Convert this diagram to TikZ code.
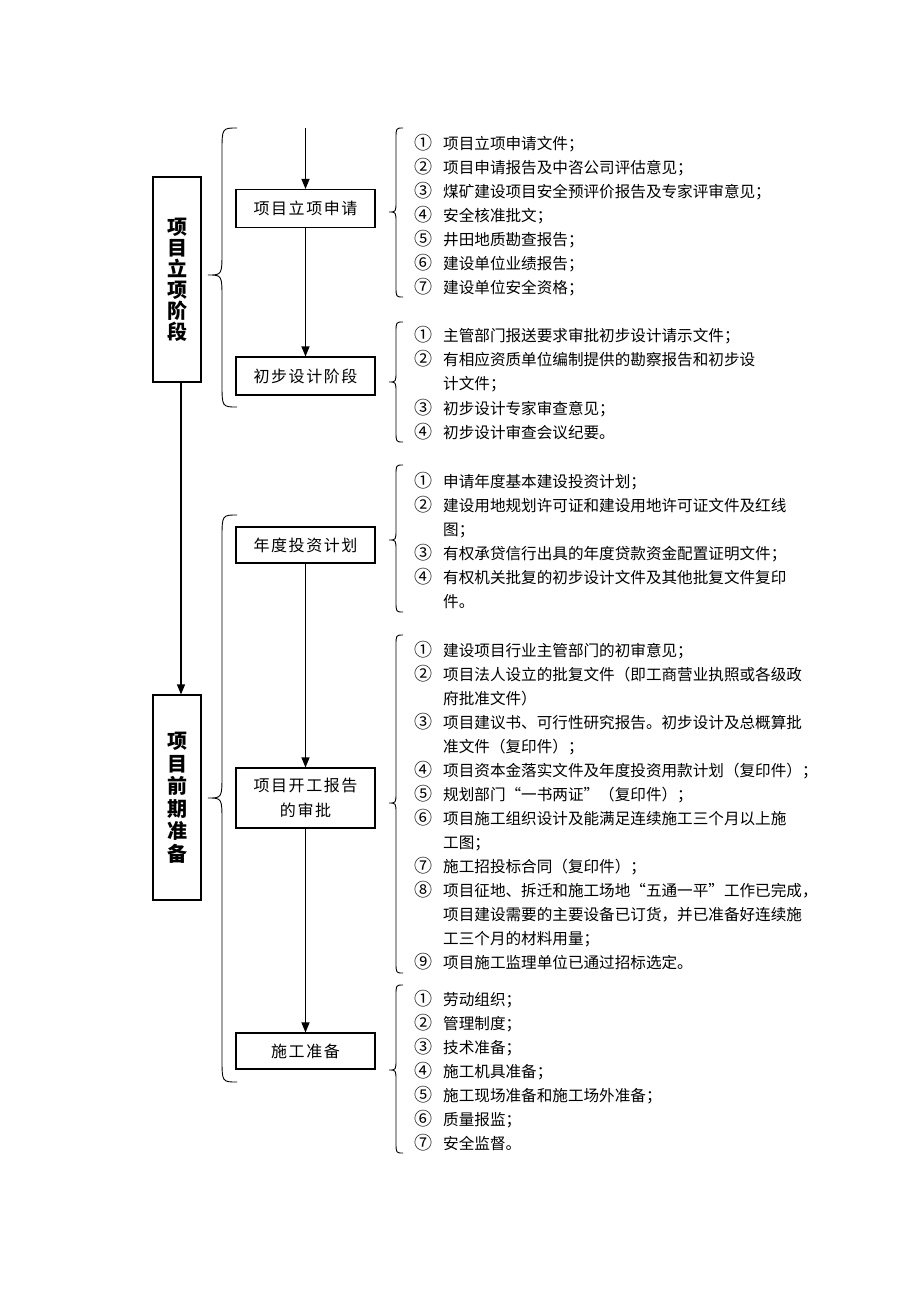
\documentclass[tikz,border=0pt]{standalone}
\usepackage{fontspec}
\usetikzlibrary{arrows.meta}
\newfontfamily\cjk{Noto Sans CJK SC}
\newfontfamily\boxcjk[LetterSpace=10]{Noto Sans CJK SC}
\newcommand{\cbr}[7]{\draw[brc] (#1,#4) .. controls (#2,#4) .. (#2,{#4+#7}) -- (#2,{#5-#7}) .. controls (#2,#5) .. (#3,#5) .. controls (#2,#5) .. (#2,{#5+#7}) -- (#2,{#6-#7}) .. controls (#2,#6) .. (#1,#6);}
\tikzset{
  brc/.style={line width=0.9pt},
  stagebox/.style={draw,line width=1.1pt,minimum width=48pt,minimum height=205pt,inner sep=0pt,align=center,font=\cjk\bfseries\fontsize{20}{21}\selectfont},
  stepbox/.style={draw,line width=1.1pt,minimum width=139pt,inner sep=0pt,align=center,font=\boxcjk\fontsize{16}{25}\selectfont},
  arr/.style={line width=1.2pt,-{Triangle[length=10pt,width=8pt]}},
  num/.style={anchor=base,inner sep=0pt,font=\cjk\fontsize{18}{18}\selectfont},
  itm/.style={anchor=base west,inner sep=0pt,font=\cjk\fontsize{15.6}{18}\selectfont}
}
\begin{document}
\begin{tikzpicture}[x=1pt,y=-1pt]
\useasboundingbox (0,0) rectangle (920,1302);
% stage boxes
\node[stagebox] (L1) at (177,279.5) {项\\目\\立\\项\\阶\\段};
\node[stagebox,font=\cjk\bfseries\fontsize{20}{22.5}\selectfont] (L2) at (177,797.5) {项\\目\\前\\期\\准\\备};
\draw[arr] ([xshift=4pt]L1.south) -- ([xshift=4pt]L2.north);
% step boxes
\node[stepbox,minimum height=38pt] (m1) at (305.5,208.5) {项目立项申请};
\node[stepbox,minimum height=38pt] (m2) at (305.5,376) {初步设计阶段};
\node[stepbox,minimum height=36pt] (m3) at (305.5,545) {年度投资计划};
\node[stepbox,minimum height=60pt] (m4) at (305.5,798) {项目开工报告\\的审批};
\node[stepbox,minimum height=36pt] (m5) at (305.5,1051) {施工准备};
\coordinate (top) at (305.5,128);
\draw[arr] (top) -- (m1.north);
\draw[arr] (m1.south) -- (m2.north);
\draw[arr] (m3.south) -- (m4.north);
\draw[arr] (m4.south) -- (m5.north);
% left braces
\cbr{237}{222}{208}{128}{275}{407}{24}
\cbr{237}{222}{208}{515}{798}{1082}{24}
% right braces
\cbr{403}{396}{389}{128}{212}{297}{11}
\cbr{403}{396}{389}{322}{382}{442}{11}
\cbr{403}{396}{389}{465}{540}{612}{11}
\cbr{403}{396}{389}{635}{803}{973}{11}
\cbr{403}{396}{389}{985}{1070}{1153}{11}
% group A
\foreach \n/\t [count=\i from 0] in {①/项目立项申请文件；,②/项目申请报告及中咨公司评估意见；,③/煤矿建设项目安全预评价报告及专家评审意见；,④/安全核准批文；,⑤/井田地质勘查报告；,⑥/建设单位业绩报告；,⑦/建设单位安全资格；}{
  \node[num] (an\i) at (423,{149+24*\i}) {\n};
  \node[itm] (at\i) at (443,{149+24*\i}) {\t};
}
% group B
\node[num] (bn1) at (423,341) {①}; \node[itm] (bt1) at (443,341) {主管部门报送要求审批初步设计请示文件；};
\node[num] (bn2) at (423,365) {②}; \node[itm] (bt2) at (443,365) {有相应资质单位编制提供的勘察报告和初步设};
\node[itm] (bt2b) at (443,389) {计文件；};
\node[num] (bn3) at (423,414) {③}; \node[itm] (bt3) at (443,414) {初步设计专家审查意见；};
\node[num] (bn4) at (423,438) {④}; \node[itm] (bt4) at (443,438) {初步设计审查会议纪要。};
% group C
\node[num] (cn1) at (423,487) {①}; \node[itm] (ct1) at (443,487) {申请年度基本建设投资计划；};
\node[num] (cn2) at (423,511) {②}; \node[itm] (ct2) at (443,511) {建设用地规划许可证和建设用地许可证文件及红线};
\node[itm] (ct2b) at (443,535) {图；};
\node[num] (cn3) at (423,559) {③}; \node[itm] (ct3) at (443,559) {有权承贷信行出具的年度贷款资金配置证明文件；};
\node[num] (cn4) at (423,583) {④}; \node[itm] (ct4) at (443,583) {有权机关批复的初步设计文件及其他批复文件复印};
\node[itm] (ct4b) at (443,607) {件。};
% group D
\node[num] (dn1) at (423,656) {①}; \node[itm] (dt1) at (443,656) {建设项目行业主管部门的初审意见；};
\node[num] (dn2) at (423,680) {②}; \node[itm] (dt2) at (443,680) {项目法人设立的批复文件（即工商营业执照或各级政};
\node[itm] (dt2b) at (443,704) {府批准文件）};
\node[num] (dn3) at (423,728) {③}; \node[itm] (dt3) at (443,728) {项目建议书、可行性研究报告。初步设计及总概算批};
\node[itm] (dt3b) at (443,752) {准文件（复印件）；};
\node[num] (dn4) at (423,776) {④}; \node[itm] (dt4) at (443,776) {项目资本金落实文件及年度投资用款计划（复印件）；};
\node[num] (dn5) at (423,800) {⑤}; \node[itm] (dt5) at (443,800) {规划部门“一书两证”（复印件）；};
\node[num] (dn6) at (423,824) {⑥}; \node[itm] (dt6) at (443,824) {项目施工组织设计及能满足连续施工三个月以上施};
\node[itm] (dt6b) at (443,848) {工图；};
\node[num] (dn7) at (423,872) {⑦}; \node[itm] (dt7) at (443,872) {施工招投标合同（复印件）；};
\node[num] (dn8) at (423,896) {⑧}; \node[itm] (dt8) at (443,896) {项目征地、拆迁和施工场地“五通一平”工作已完成，};
\node[itm] (dt8b) at (443,920) {项目建设需要的主要设备已订货，并已准备好连续施};
\node[itm] (dt8c) at (443,944) {工三个月的材料用量；};
\node[num] (dn9) at (423,968) {⑨}; \node[itm] (dt9) at (443,968) {项目施工监理单位已通过招标选定。};
% group E
\foreach \n/\t [count=\i from 0] in {①/劳动组织；,②/管理制度；,③/技术准备；,④/施工机具准备；,⑤/施工现场准备和施工场外准备；,⑥/质量报监；,⑦/安全监督。}{
  \node[num] (en\i) at (423,{1005+24*\i}) {\n};
  \node[itm] (et\i) at (443,{1005+24*\i}) {\t};
}
\end{tikzpicture}
\end{document}
